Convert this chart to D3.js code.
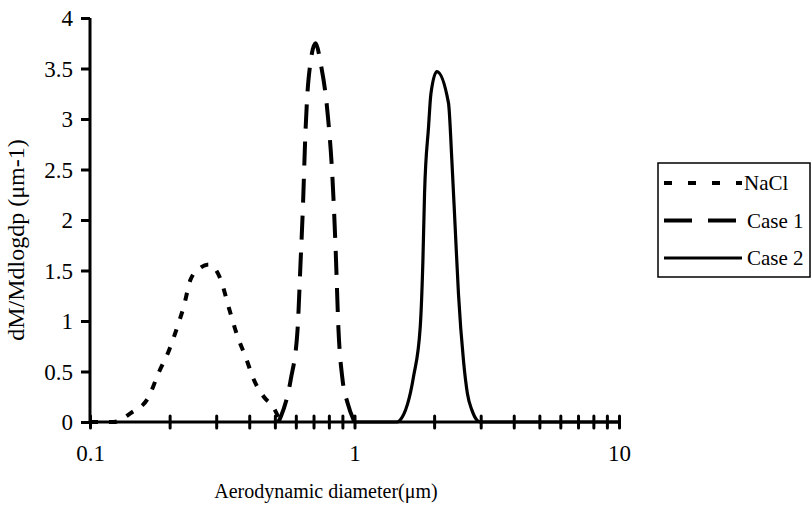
<!DOCTYPE html>
<html><head><meta charset="utf-8">
<script src="https://cdn.jsdelivr.net/npm/d3@7"></script>
<style>body{margin:0;background:#fff}svg{display:block}text{font-family:"Liberation Serif","Times New Roman",serif;fill:#000}</style>
</head><body><svg id="c" width="812" height="509"></svg>
<script>
const naclX = [0.1, 0.123, 0.143, 0.166, 0.182, 0.199, 0.215, 0.226, 0.240, 0.262, 0.281, 0.312, 0.335, 0.362, 0.388, 0.416, 0.454, 0.495, 0.525];
const naclY = [0, 0, 0.09, 0.24, 0.49, 0.71, 0.96, 1.14, 1.41, 1.53, 1.56, 1.41, 1.13, 0.84, 0.64, 0.42, 0.25, 0.14, 0];
const case1X = [0.515, 0.526, 0.574, 0.609, 0.625, 0.637, 0.653, 0.670, 0.713, 0.745, 0.791, 0.826, 0.848, 0.870, 0.901, 0.941, 1.0];
const case1Y = [0, 0.05, 0.42, 0.91, 1.57, 2.07, 2.89, 3.39, 3.75, 3.55, 3.06, 2.40, 1.73, 0.91, 0.42, 0.19, 0];
const case2X = [1.0, 1.45, 1.489, 1.672, 1.772, 1.814, 1.840, 1.905, 1.945, 2.048, 2.266, 2.334, 2.402, 2.472, 2.582, 2.673, 2.777, 2.90, 2.99, 10];
const case2Y = [0, 0, 0.02, 0.45, 0.94, 1.60, 2.26, 2.92, 3.25, 3.47, 3.16, 2.59, 1.93, 1.27, 0.61, 0.28, 0.12, 0.02, 0, 0];
const seriesNames = ["NaCl", "Case 1", "Case 2"];
const yTicks = [0, 0.5, 1, 1.5, 2, 2.5, 3, 3.5, 4];
const xTicks = [0.1,0.2,0.3,0.4,0.5,0.6,0.7,0.8,0.9,1,2,3,4,5,6,7,8,9,10];
const xLabels = [0.1, 1, 10];

const svg = d3.select("#c");
const x = d3.scaleLog().domain([0.1, 10]).range([90, 619]);
const y = d3.scaleLinear().domain([0, 4]).range([422, 18]);

const styles = [
  {dash: "8,11", legDash: "8,16", w: 4},
  {dash: "24,13", legDash: "28,16", w: 4},
  {dash: null, legDash: null, w: 3.2}
];
const data = [
  naclX.map((d,i)=>[d, naclY[i]]),
  case1X.map((d,i)=>[d, case1Y[i]]),
  case2X.map((d,i)=>[d, case2Y[i]])
];
const line = d3.line().x(d=>x(d[0])).y(d=>y(d[1])).curve(d3.curveMonotoneX);

data.forEach((s,i)=>{
  svg.append("path").attr("d", line(s)).attr("fill","none").attr("stroke","#000")
    .attr("stroke-width", styles[i].w).attr("stroke-dasharray", styles[i].dash).attr("stroke-linejoin","round");
});

// Y axis
const ya = svg.append("g").attr("transform","translate(90,0)")
  .call(d3.axisLeft(y).tickValues(yTicks).tickSize(9).tickPadding(8).tickFormat(d3.format("")));
ya.select(".domain").attr("stroke-width",3).attr("d","M0,18V422");
ya.selectAll(".tick line").attr("stroke-width",3);
ya.selectAll("text").style("font-size","23px").attr("dy","0.34em");

// X axis
const xa = svg.append("g").attr("transform","translate(0,422)")
  .call(d3.axisBottom(x).tickValues(xTicks).tickSize(5).tickPadding(18)
    .tickFormat(d=> xLabels.includes(d) ? String(d) : ""));
xa.select(".domain").attr("stroke-width",3).attr("d","M90,0H619");
xa.selectAll(".tick line").attr("y1",-6).attr("y2",6).attr("stroke-width",3).attr("stroke-linecap","round");
xa.selectAll("text").style("font-size","23px");

// Axis titles
svg.append("text").attr("x",326).attr("y",498).attr("text-anchor","middle").style("font-size","20px").text("Aerodynamic diameter(μm)");
svg.append("text").attr("transform","translate(24,240) rotate(-90)").attr("text-anchor","middle")
  .style("font-size","24px").text("dM/Mdlogdp (μm-1)");

// Legend
const lg = svg.append("g");
lg.append("rect").attr("x",658).attr("y",163).attr("width",152).attr("height",114).attr("fill","#fff").attr("stroke","#000").attr("stroke-width",1.5);
const ly = d3.scalePoint().domain(seriesNames).range([183, 258]);
seriesNames.forEach((n,i)=>{
  lg.append("line").attr("x1",664).attr("x2",742).attr("y1",ly(n)).attr("y2",ly(n))
    .attr("stroke","#000").attr("stroke-width",styles[i].w).attr("stroke-dasharray", styles[i].legDash);
  lg.append("text").attr("x", i===0 ? 744 : 747).attr("y",ly(n)+7).style("font-size","21px").text(n);
});
</script></body></html>
